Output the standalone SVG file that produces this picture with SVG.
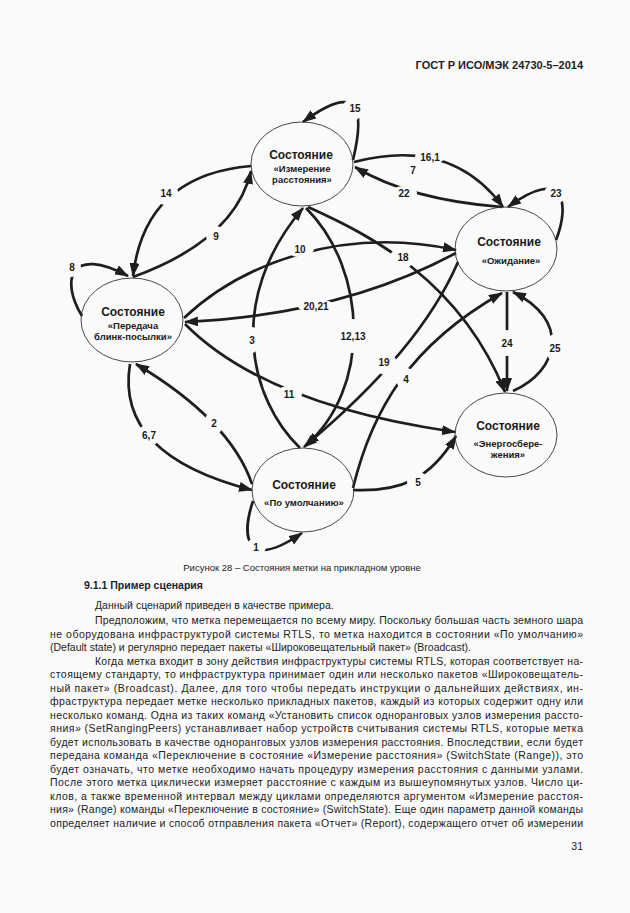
<svg xmlns="http://www.w3.org/2000/svg" width="630" height="913" viewBox="0 0 630 913">
<style>
.bg{fill:#fafafa}
.ell{fill:none;stroke:#333;stroke-width:0.9}
.t1{font-family:"Liberation Sans",Arial,sans-serif;font-size:12px;font-weight:bold;fill:#1a1a1a;text-anchor:middle}
.t2{font-family:"Liberation Sans",Arial,sans-serif;font-size:9.5px;font-weight:bold;fill:#1a1a1a;text-anchor:middle}
.conn path{fill:none;stroke:#1e1e1e;stroke-width:2.7;marker-end:url(#ah)}
.lbl{font-family:"Liberation Sans",Arial,sans-serif;font-size:10px;font-weight:bold;fill:#1a1a1a;text-anchor:middle}
.body{font-family:"Liberation Sans",Arial,sans-serif;font-size:10.5px;fill:#222}
.hd{font-family:"Liberation Sans",Arial,sans-serif;font-size:11px;font-weight:bold;fill:#222}
.cap{font-family:"Liberation Sans",Arial,sans-serif;font-size:9.5px;fill:#222;text-anchor:middle}
</style>
<defs>
<marker id="ah" markerUnits="userSpaceOnUse" markerWidth="14" markerHeight="10" refX="13" refY="5" orient="auto">
<path d="M0,0 L14,5 L0,10 Z" fill="#1e1e1e"/>
</marker>
<mask id="gaps" maskUnits="userSpaceOnUse" x="0" y="0" width="630" height="913">
<rect x="0" y="0" width="630" height="913" fill="#fff"/>
<g fill="#000">
<ellipse cx="166" cy="193" rx="12" ry="12"/>
<ellipse cx="216" cy="236" rx="10" ry="10"/>
<ellipse cx="72" cy="267" rx="9" ry="10"/>
<ellipse cx="300" cy="249" rx="14" ry="8"/>
<ellipse cx="316" cy="306" rx="18" ry="7"/>
<ellipse cx="289" cy="394" rx="13" ry="8"/>
<ellipse cx="214" cy="423" rx="10" ry="11"/>
<ellipse cx="149" cy="435" rx="11" ry="11"/>
<ellipse cx="256" cy="547" rx="10" ry="9"/>
<ellipse cx="252" cy="340" rx="8" ry="13"/>
<ellipse cx="353" cy="336" rx="16" ry="17"/>
<ellipse cx="386" cy="364" rx="11" ry="11"/>
<ellipse cx="406" cy="379" rx="10" ry="11"/>
<ellipse cx="418" cy="482" rx="11" ry="10"/>
<ellipse cx="402" cy="258" rx="12" ry="11"/>
<ellipse cx="430" cy="157" rx="15" ry="7"/>
<ellipse cx="404" cy="193" rx="13" ry="7"/>
<ellipse cx="352" cy="110" rx="10" ry="11"/>
<ellipse cx="555" cy="194" rx="11" ry="10"/>
<ellipse cx="507" cy="343" rx="8" ry="13"/>
<ellipse cx="555" cy="348" rx="9" ry="14"/>
</g>
</mask>
</defs>
<rect class="bg" x="0" y="0" width="630" height="913"/>

<text class="hd" x="583" y="69" text-anchor="end">ГОСТ Р ИСО/МЭК 24730-5–2014</text>

<g id="connectors">
<g class="conn" mask="url(#gaps)">
<path id="c14" d="M251,166 Q145,175 133,276"/>
<path id="c9" d="M133,277 Q235,240 251,171"/>
<path id="c8" d="M82,316 C60,280 70,245 128,276"/>
<path id="c10" d="M184,318 C240,265 340,225 456,250"/>
<path id="c20" d="M456,253 Q340,315 185,322"/>
<path id="c11" d="M185,324 Q265,405 455,432"/>
<path id="c2" d="M252,484 Q230,420 136,364"/>
<path id="c67" d="M130,364 Q115,455 252,490"/>
<path id="c1" d="M253,501 C240,540 248,570 302,533"/>
<path id="c3" d="M300,448 C250,400 225,300 303,208"/>
<path id="c12" d="M306,208 C368,270 372,390 304,447"/>
<path id="c19" d="M458,262 Q420,350 306,445"/>
<path id="c4" d="M353,488 C372,410 410,345 502,293"/>
<path id="c5" d="M353,490 C400,492 430,480 456,436"/>
<path id="c18" d="M308,207 C370,235 460,280 505,392"/>
<path id="c16" d="M354,162 C400,150 460,148 503,207"/>
<path id="c22" d="M502,207 Q410,200 355,167"/>
<path id="c15" d="M353,160 C365,110 360,80 303,122"/>
<path id="c23" d="M556,240 C570,205 565,165 508,207"/>
<path id="c24" d="M507,292 L507,391"/>
<path id="c25" d="M513,391 C560,370 570,320 513,292"/>
</g>
<g id="labels">
<text class="lbl" x="166" y="197">14</text>
<text class="lbl" x="216" y="240">9</text>
<text class="lbl" x="72" y="271">8</text>
<text class="lbl" x="300" y="253">10</text>
<text class="lbl" x="316" y="310">20,21</text>
<text class="lbl" x="289" y="398">11</text>
<text class="lbl" x="214" y="427">2</text>
<text class="lbl" x="149" y="439">6,7</text>
<text class="lbl" x="256" y="551">1</text>
<text class="lbl" x="252" y="344">3</text>
<text class="lbl" x="353" y="340">12,13</text>
<text class="lbl" x="384" y="366">19</text>
<text class="lbl" x="406" y="383">4</text>
<text class="lbl" x="418" y="486">5</text>
<text class="lbl" x="403" y="261">18</text>
<text class="lbl" x="430" y="161">16,1</text>
<text class="lbl" x="413" y="174">7</text>
<text class="lbl" x="404" y="197">22</text>
<text class="lbl" x="355" y="112">15</text>
<text class="lbl" x="556" y="197">23</text>
<text class="lbl" x="507" y="347">24</text>
<text class="lbl" x="555" y="352">25</text>
</g>
</g>

<g id="n-izmerenie">
<ellipse class="ell" cx="302" cy="164" rx="51" ry="42"/>
<text class="t1" x="301" y="159">Состояние</text>
<text class="t2" x="302" y="172">«Измерение</text>
<text class="t2" x="302" y="183">расстояния»</text>
</g>
<g id="n-ozhidanie">
<ellipse class="ell" cx="506" cy="249" rx="51" ry="42"/>
<text class="t1" x="509" y="246">Состояние</text>
<text class="t2" x="511" y="264">«Ожидание»</text>
</g>
<g id="n-peredacha">
<ellipse class="ell" cx="132" cy="320" rx="51" ry="42"/>
<text class="t1" x="133" y="316">Состояние</text>
<text class="t2" x="133" y="329">«Передача</text>
<text class="t2" x="133" y="340">блинк-посылки»</text>
</g>
<g id="n-umolchanie">
<ellipse class="ell" cx="303" cy="490" rx="51" ry="42"/>
<text class="t1" x="304" y="489">Состояние</text>
<text class="t2" x="304" y="506">«По умолчанию»</text>
</g>
<g id="n-energo">
<ellipse class="ell" cx="506" cy="435" rx="51" ry="42"/>
<text class="t1" x="508" y="430">Состояние</text>
<text class="t2" x="508" y="447">«Энергосбере-</text>
<text class="t2" x="508" y="458">жения»</text>
</g>

<text class="cap" x="302" y="571">Рисунок 28 – Состояния метки на прикладном уровне</text>
<text class="hd" x="84" y="589" style="font-size:10.5px">9.1.1 Пример сценария</text>

<g id="body">
<text class="body" x="95" y="609">Данный сценарий приведен в качестве примера.</text>
<text class="body" x="95" y="624" textLength="488" lengthAdjust="spacing">Предположим, что метка перемещается по всему миру. Поскольку большая часть земного шара</text>
<text class="body" x="50" y="637.5" textLength="533" lengthAdjust="spacing">не оборудована инфраструктурой системы RTLS, то метка находится в состоянии «По умолчанию»</text>
<text class="body" x="50" y="651">(Default state) и регулярно передает пакеты «Широковещательный пакет» (Broadcast).</text>
<text class="body" x="95" y="664.5" textLength="488" lengthAdjust="spacing">Когда метка входит в зону действия инфраструктуры системы RTLS, которая соответствует на-</text>
<text class="body" x="50" y="678" textLength="533" lengthAdjust="spacing">стоящему стандарту, то инфраструктура принимает один или несколько пакетов «Широковещатель-</text>
<text class="body" x="50" y="691.5" textLength="533" lengthAdjust="spacing">ный пакет» (Broadcast). Далее, для того чтобы передать инструкции о дальнейших действиях, ин-</text>
<text class="body" x="50" y="705" textLength="533" lengthAdjust="spacing">фраструктура передает метке несколько прикладных пакетов, каждый из которых содержит одну или</text>
<text class="body" x="50" y="718.5" textLength="533" lengthAdjust="spacing">несколько команд. Одна из таких команд «Установить список одноранговых узлов измерения рассто-</text>
<text class="body" x="50" y="732" textLength="533" lengthAdjust="spacing">яния» (SetRangingPeers) устанавливает набор устройств считывания системы RTLS, которые метка</text>
<text class="body" x="50" y="745.5" textLength="533" lengthAdjust="spacing">будет использовать в качестве одноранговых узлов измерения расстояния. Впоследствии, если будет</text>
<text class="body" x="50" y="759" textLength="533" lengthAdjust="spacing">передана команда «Переключение в состояние «Измерение расстояния» (SwitchState (Range)), это</text>
<text class="body" x="50" y="772.5" textLength="533" lengthAdjust="spacing">будет означать, что метке необходимо начать процедуру измерения расстояния с данными узлами.</text>
<text class="body" x="50" y="786" textLength="533" lengthAdjust="spacing">После этого метка циклически измеряет расстояние с каждым из вышеупомянутых узлов. Число ци-</text>
<text class="body" x="50" y="799.5" textLength="533" lengthAdjust="spacing">клов, а также временной интервал между циклами определяются аргументом «Измерение расстоя-</text>
<text class="body" x="50" y="813" textLength="533" lengthAdjust="spacing">ния» (Range) команды «Переключение в состояние» (SwitchState). Еще один параметр данной команды</text>
<text class="body" x="50" y="826.5" textLength="533" lengthAdjust="spacing">определяет наличие и способ отправления пакета «Отчет» (Report), содержащего отчет об измерении</text>
</g>
<text class="body" x="583" y="850" text-anchor="end">31</text>
</svg>
